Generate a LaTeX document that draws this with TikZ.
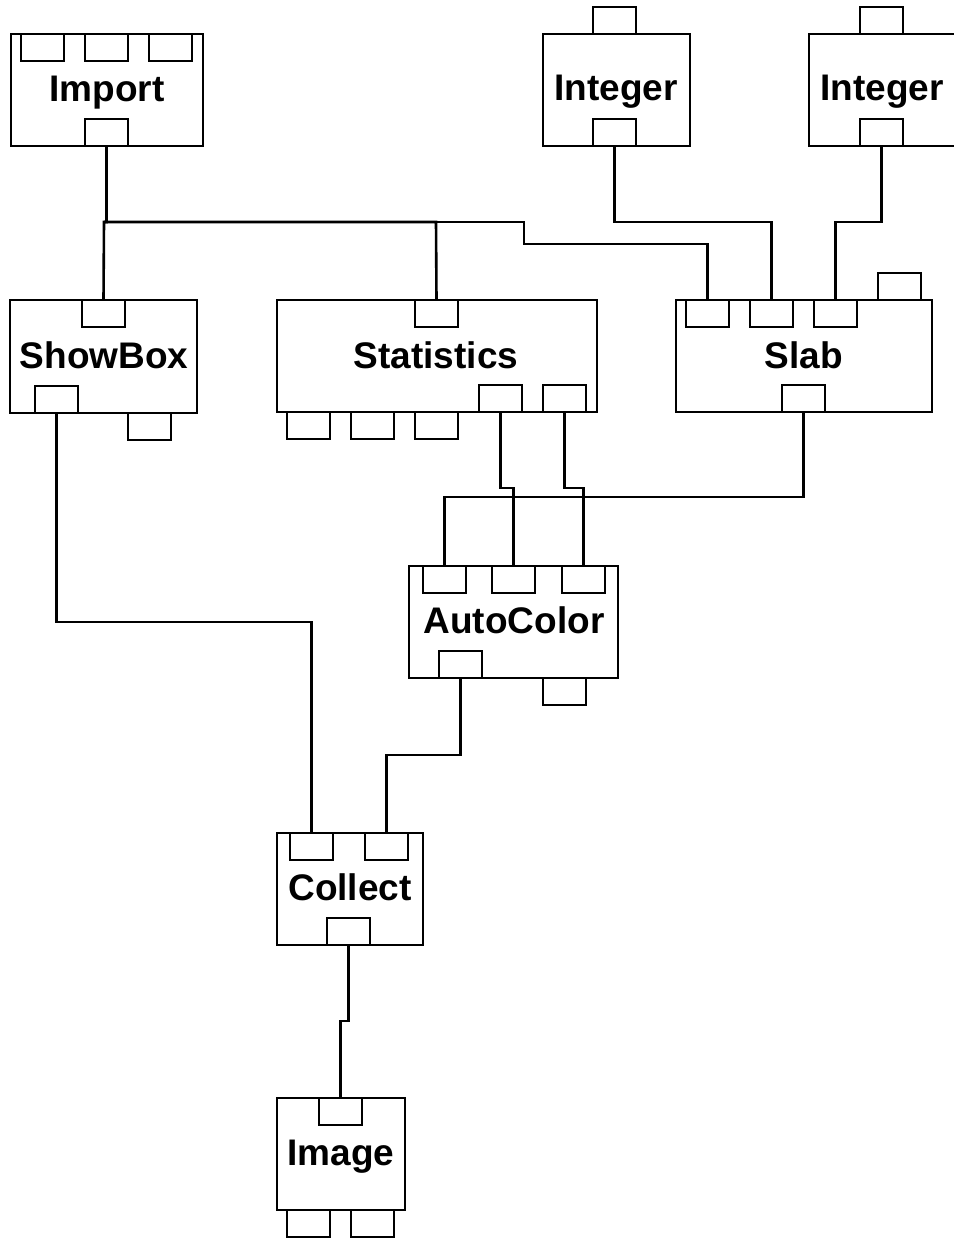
\documentclass[tikz,border=0pt]{standalone}
\usepackage{fontspec}
\setmainfont{Liberation Sans}
\begin{document}
\begin{tikzpicture}[x=1pt,y=-1pt,line width=2.6pt,line join=miter,
  blk/.style={draw,rectangle,inner sep=0pt,outer sep=0pt,anchor=north west},
  port/.style={draw,rectangle,inner sep=0pt,outer sep=0pt,anchor=north west,minimum width=43pt,minimum height=27pt},
  lbl/.style={inner sep=0pt,anchor=base,font=\fontsize{37}{41}\selectfont\bfseries},
  wire/.style={draw,line width=2.6pt}]
\useasboundingbox (0,0) rectangle (953,1239);
% Import
\node[blk,minimum width=192pt,minimum height=112pt] (imp) at (11,34) {};
\node[port] (imp-i1) at (21,34) {};
\node[port] (imp-i2) at (85,34) {};
\node[port] (imp-i3) at (149,34) {};
\node[port] (imp-o) at (85,119) {};
\node[lbl] (imp-t) at (107,101) {Import};
% Integer 1
\node[blk,minimum width=147pt,minimum height=112pt] (int1) at (543,34) {};
\node[port] (int1-i) at (593,7) {};
\node[port] (int1-o) at (593,119) {};
\node[lbl] (int1-t) at (616,100) {Integer};
% Integer 2
\node[blk,minimum width=147pt,minimum height=112pt] (int2) at (809,34) {};
\node[port] (int2-i) at (860,7) {};
\node[port] (int2-o) at (860,119) {};
\node[lbl] (int2-t) at (882,100) {Integer};
% ShowBox
\node[blk,minimum width=187pt,minimum height=113pt] (sb) at (10,300) {};
\node[port] (sb-i) at (82,300) {};
\node[port] (sb-o) at (35,386) {};
\node[port] (sb-o2) at (128,413) {};
\node[lbl] (sb-t) at (104,368) {ShowBox};
% Statistics
\node[blk,minimum width=320pt,minimum height=112pt] (stat) at (277,300) {};
\node[port] (stat-i) at (415,300) {};
\node[port] (stat-o1) at (479,385) {};
\node[port] (stat-o2) at (543,385) {};
\node[port] (stat-p1) at (287,412) {};
\node[port] (stat-p2) at (351,412) {};
\node[port] (stat-p3) at (415,412) {};
\node[lbl] (stat-t) at (436,368) {Statistics};
% Slab
\node[blk,minimum width=256pt,minimum height=112pt] (slab) at (676,300) {};
\node[port] (slab-i1) at (686,300) {};
\node[port] (slab-i2) at (750,300) {};
\node[port] (slab-i3) at (814,300) {};
\node[port] (slab-i4) at (878,273) {};
\node[port] (slab-o) at (782,385) {};
\node[lbl] (slab-t) at (804,368) {Slab};
% AutoColor
\node[blk,minimum width=209pt,minimum height=112pt] (ac) at (409,566) {};
\node[port] (ac-i1) at (423,566) {};
\node[port] (ac-i2) at (492,566) {};
\node[port] (ac-i3) at (562,566) {};
\node[port] (ac-o) at (439,651) {};
\node[port] (ac-o2) at (543,678) {};
\node[lbl] (ac-t) at (514,633) {AutoColor};
% Collect
\node[blk,minimum width=146pt,minimum height=112pt] (col) at (277,833) {};
\node[port] (col-i1) at (290,833) {};
\node[port] (col-i2) at (365,833) {};
\node[port] (col-o) at (327,918) {};
\node[lbl] (col-t) at (350,900) {Collect};
% Image
\node[blk,minimum width=128pt,minimum height=112pt] (img) at (277,1098) {};
\node[port] (img-i) at (319,1098) {};
\node[port] (img-o1) at (287,1210) {};
\node[port] (img-o2) at (351,1210) {};
\node[lbl] (img-t) at (341,1165) {Image};
% junctions
\coordinate (j1) at (104,222);
\coordinate (j2) at (436,222);
\coordinate (j3) at (524,222);
\coordinate (j4) at (524,244);
% connectors
\draw[wire] (imp-o.south) |- (j1) -- (sb-i.north);
\draw[wire] (j1) -- (j2) -- (stat-i.north);
\draw[wire] (j2) -- (j3) -- (j4) -| (slab-i1.north);
\draw[wire] (int1-o.south) -- ++(0,76) -| (slab-i2.north);
\draw[wire] (int2-o.south) -- ++(0,76) -| (slab-i3.north);
\draw[wire] (stat-o1.south) -- ++(0,76) -| (ac-i2.north);
\draw[wire] (stat-o2.south) -- ++(0,76) -| (ac-i3.north);
\draw[wire] (slab-o.south) -- ++(0,85) -| (ac-i1.north);
\draw[wire] (sb-o.south) -- ++(0,209) -| (col-i1.north);
\draw[wire] (ac-o.south) -- ++(0,77) -| (col-i2.north);
\draw[wire] (col-o.south) -- ++(0,76) -| (img-i.north);
\end{tikzpicture}
\end{document}
